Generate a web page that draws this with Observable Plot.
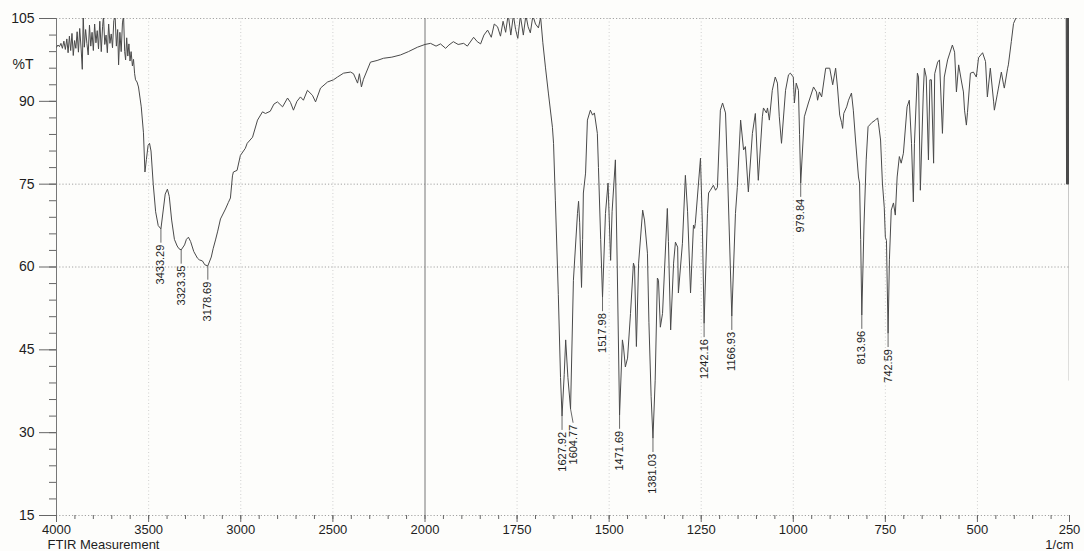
<!DOCTYPE html>
<html>
<head>
<meta charset="utf-8">
<script src="https://cdn.jsdelivr.net/npm/d3@7"></script>
<script src="https://cdn.jsdelivr.net/npm/@observablehq/plot@0.6"></script>
<style>
  html, body { margin: 0; padding: 0; background: #fdfdfb; }
</style>
</head>
<body>
<div id="chart"></div>
<script>
// FTIR transmittance spectrum, [wavenumber (1/cm), %T]
// 4000–2000 1/cm region (O–H / N–H stretch and baseline)
const spectrumHigh = [
  [4000, 99.8], [3992, 100.2], [3984, 99.9], [3976, 100.5], [3968, 99.6], [3960, 100.9],
  [3952, 99.4], [3944, 101.3], [3937, 98.8], [3930, 101.8], [3923, 99.2], [3916, 102.3],
  [3909, 98.3], [3902, 101.0], [3895, 99.6], [3888, 102.6], [3881, 98.9], [3874, 103.2],
  [3866, 99.3], [3860, 95.8], [3855, 105.5], [3849, 99.8], [3842, 103.0], [3835, 100.5],
  [3828, 98.4], [3821, 103.8], [3814, 100.0], [3807, 102.5], [3800, 99.2], [3793, 104.0],
  [3786, 100.6], [3779, 102.8], [3772, 99.5], [3765, 104.5], [3757, 99.0], [3750, 103.5],
  [3745, 105.5], [3738, 100.3], [3731, 102.0], [3724, 98.8], [3717, 104.0], [3710, 100.5],
  [3703, 102.2], [3696, 99.7], [3689, 104.6], [3682, 105.5], [3675, 100.0], [3668, 103.0],
  [3663, 96.6], [3656, 102.5], [3649, 99.0], [3642, 104.2], [3636, 105.5], [3630, 99.0],
  [3625, 97.5], [3619, 101.5], [3613, 98.2], [3607, 100.4], [3601, 97.3], [3595, 99.0],
  [3588, 96.4], [3582, 97.6], [3576, 95.0], [3571, 93.9], [3563, 93.5], [3555, 92.6],
  [3540, 89.0], [3528, 84.3], [3520, 77.2], [3512, 79.5], [3503, 82.0], [3495, 82.4],
  [3487, 81.0], [3475, 75.0], [3462, 70.0], [3448, 67.5], [3420, 70.5], [3410, 73.2],
  [3398, 74.1], [3388, 72.8], [3375, 68.5], [3360, 65.0], [3345, 63.8], [3335, 63.3],
  [3305, 64.0], [3295, 65.0], [3284, 65.4], [3272, 64.6], [3255, 62.8], [3235, 61.6],
  [3225, 61.3], [3208, 61.1], [3195, 60.4], [3160, 61.8], [3150, 63.3], [3137, 64.9],
  [3125, 66.5], [3110, 68.7], [3083, 70.5], [3067, 71.7], [3056, 72.5], [3045, 76.5],
  [3040, 77.2], [3020, 77.5], [3002, 80.2], [2975, 81.5], [2965, 82.4], [2936, 83.5],
  [2909, 86.6], [2882, 88.1], [2866, 87.8], [2840, 88.2], [2820, 89.5], [2801, 89.9],
  [2773, 89.0], [2746, 90.6], [2730, 89.8], [2714, 88.4], [2695, 90.0], [2676, 90.8],
  [2660, 90.2], [2638, 92.0], [2611, 91.1], [2594, 89.9], [2567, 92.4], [2529, 93.5],
  [2497, 93.9], [2475, 94.4], [2442, 95.1], [2404, 95.3], [2388, 95.0], [2366, 93.3],
  [2356, 95.0], [2345, 92.6], [2334, 94.0], [2296, 97.1], [2260, 97.4], [2225, 97.8],
  [2180, 98.0], [2133, 98.4], [2090, 99.0], [2041, 99.8], [2000, 100.3]
];

// 2000–250 1/cm region (fingerprint)
const spectrumLow = [
  [1985, 100.5], [1970, 100.0], [1958, 100.4], [1944, 99.6], [1935, 100.2], [1923, 100.8],
  [1910, 100.3], [1895, 100.5], [1885, 100.0], [1868, 101.6], [1858, 100.8], [1849, 100.4],
  [1840, 102.0], [1830, 102.9], [1820, 101.6], [1812, 104.0], [1803, 103.5], [1795, 101.8],
  [1788, 104.5], [1781, 102.5], [1774, 105.8], [1767, 102.0], [1760, 105.6], [1754, 103.0],
  [1748, 101.4], [1741, 105.5], [1733, 102.0], [1726, 105.6], [1720, 103.5], [1714, 102.4],
  [1707, 105.5], [1700, 104.0], [1692, 103.3], [1686, 105.2], [1680, 100.6], [1673, 96.2],
  [1665, 91.5], [1654, 85.3], [1651, 82.4], [1646, 72.1], [1638, 55.0], [1632, 40.0],
  [1622, 40.5], [1618, 46.8], [1612, 40.0], [1597, 57.6], [1586, 69.7], [1583, 71.9],
  [1580, 68.0], [1575, 56.3], [1572, 65.0], [1570, 73.4], [1564, 77.0], [1559, 86.6],
  [1551, 88.4], [1545, 87.5], [1540, 87.9], [1532, 84.2], [1529, 78.0], [1523, 65.0],
  [1510, 69.7], [1503, 75.2], [1496, 61.2], [1492, 70.0], [1483, 79.4], [1478, 60.0],
  [1464, 46.8], [1461, 45.5], [1456, 41.9], [1450, 43.5], [1442, 51.6], [1434, 60.7],
  [1431, 60.0], [1426, 45.6], [1420, 60.7], [1409, 70.3], [1404, 68.5], [1396, 62.5],
  [1392, 50.0], [1386, 36.5], [1375, 39.5], [1369, 58.0], [1366, 57.6], [1361, 49.1],
  [1355, 51.6], [1342, 70.6], [1339, 64.6], [1333, 48.6], [1325, 60.7], [1320, 64.5],
  [1314, 63.6], [1312, 55.3], [1301, 64.3], [1293, 76.6], [1287, 70.0], [1279, 55.3],
  [1271, 67.6], [1268, 67.0], [1266, 67.9], [1252, 79.7], [1247, 68.0], [1233, 69.7],
  [1230, 73.4], [1225, 73.9], [1217, 74.8], [1211, 73.9], [1206, 74.4], [1198, 88.4],
  [1192, 89.7], [1184, 87.9], [1179, 78.0], [1157, 69.7], [1152, 74.4], [1143, 86.6],
  [1135, 81.2], [1130, 81.8], [1122, 73.6], [1111, 84.2], [1103, 87.8], [1095, 75.7],
  [1084, 87.2], [1081, 88.8], [1073, 87.9], [1070, 88.8], [1065, 86.6], [1057, 92.0],
  [1049, 94.4], [1043, 93.3], [1038, 87.2], [1032, 82.4], [1021, 92.0], [1013, 94.8],
  [1008, 95.1], [1000, 94.4], [997, 89.7], [992, 93.3], [986, 92.0], [983, 84.0],
  [970, 87.2], [959, 89.7], [945, 92.6], [937, 91.7], [934, 90.2], [929, 91.7],
  [923, 90.8], [912, 96.0], [901, 96.0], [893, 93.0], [885, 96.0], [880, 92.6],
  [874, 87.5], [869, 86.2], [866, 85.1], [863, 87.8], [855, 89.0], [850, 90.2],
  [842, 91.5], [837, 88.4], [831, 83.0], [823, 76.3], [820, 75.2], [817, 65.0],
  [808, 67.6], [802, 79.4], [797, 85.4], [786, 86.2], [777, 86.6], [771, 87.0],
  [769, 86.2], [763, 83.0], [758, 75.2], [753, 70.8], [750, 65.4], [747, 64.8],
  [739, 61.3], [734, 70.3], [728, 71.6], [723, 69.4], [718, 76.3], [712, 80.0],
  [707, 78.8], [701, 80.6], [691, 89.0], [685, 90.2], [679, 82.4], [674, 71.8],
  [671, 82.4], [663, 95.1], [660, 94.4], [655, 73.9], [647, 91.5], [644, 96.0],
  [639, 94.4], [633, 79.4], [629, 93.9], [625, 93.9], [619, 78.8], [616, 95.0],
  [608, 97.1], [603, 97.5], [595, 84.2], [590, 94.4], [581, 97.5], [568, 100.2],
  [562, 98.9], [557, 91.7], [551, 96.6], [543, 93.5], [538, 91.7], [535, 88.4],
  [530, 85.7], [527, 88.0], [519, 95.1], [511, 95.3], [503, 94.4], [497, 97.9],
  [486, 98.8], [478, 97.2], [473, 90.8], [465, 96.0], [456, 89.9], [454, 88.4],
  [446, 91.3], [443, 92.4], [435, 95.3], [429, 93.0], [427, 92.4], [418, 96.0],
  [416, 96.6], [408, 100.8], [402, 104.1], [394, 105.3], [370, 109.0], [320, 112.0],
  [280, 110.0], [262, 107.0], [259, 106.0], [258, 75.0], [257, 106.0], [256, 75.0],
  [255, 106.0], [254, 75.0], [253, 106.0], [252, 75.0], [251.2, 106.0], [250.8, 75.0],
  [250.4, 39.5]
];

// Labelled absorption minima
const peakWavenumbers = [3433.29, 3323.35, 3178.69, 1627.92, 1604.77, 1517.98, 1471.69,
                         1381.03, 1242.16, 1166.93, 979.84, 813.96, 742.59];
const peakTransmittance = [66.9, 63.1, 60.2, 33.0, 34.3, 54.5, 33.2,
                           29.0, 49.8, 51.1, 75.2, 51.3, 48.0];

// Axis ticks
const yTicks = [15, 30, 45, 60, 75, 90, 105];
const yMinorTicks = d3.range(15, 106, 3);
const yGridLines = [15, 60, 75, 105];
const xTicks = [4000, 3500, 3000, 2500, 2000, 1750, 1500, 1250, 1000, 750, 500, 250];
const xMinorTicks = [...d3.range(4000, 2000, -100), ...d3.range(2000, 249, -50)];
const xGridLines = [3500, 3000, 2500, 1750, 1500, 1250, 1000, 750, 500];

// Peak annotations: labels of crowded neighbours are pushed apart a little,
// with the leader bending from the minimum to the shifted label.
const peaks = peakWavenumbers.map((wn, i) => ({wn, t: peakTransmittance[i], lx: wn}));
for (let i = 1; i < peaks.length; i++) {
  const gap = peaks[i - 1].lx - peaks[i].wn;
  if (peaks[i].wn < 2000 && gap < 30) peaks[i].lx = peaks[i - 1].lx - 30;
}
const leaderLength = 2.5; // in %T

const spectrum = [...spectrumHigh, ...spectrumLow]
  .map(([wn, t]) => ({wn, t}))
  .concat(peaks.map(({wn, t}) => ({wn, t})))
  .sort((a, b) => b.wn - a.wn);

const ink = "#1e1e1e";
const chart = Plot.plot({
  width: 1084,
  height: 551,
  marginLeft: 56,
  marginRight: 15,
  marginTop: 18,
  marginBottom: 36,
  style: {
    background: "#fdfdfb",
    fontFamily: "'Liberation Sans', Arial, sans-serif",
    color: ink
  },
  // split scale: the 2000–250 region is drawn at twice the density of 4000–2000
  x: {type: "linear", domain: [4000, 2000, 250], range: [56, 424.5, 1069]},
  y: {domain: [15, 105]},
  marks: [
    Plot.ruleX(xGridLines, {stroke: "#c4c4c4", strokeDasharray: "1,2.5", strokeWidth: 0.8}),
    Plot.ruleY(yGridLines, {stroke: "#9a9a9a", strokeDasharray: "1.2,2", strokeWidth: 0.9}),
    Plot.ruleX([4000, 2000], {stroke: "#777", strokeWidth: 1}),

    Plot.axisY(yTicks, {tickSize: 17, tickPadding: 5, fontSize: 14, label: null, stroke: "#666", fill: ink, tickFormat: d => String(d)}),
    Plot.axisY(yMinorTicks, {tickSize: 7, label: null, stroke: "#666", tickFormat: () => ""}),
    Plot.axisX(xTicks, {tickSize: 7, tickPadding: 2, fontSize: 13, label: null, stroke: "#666", fill: ink, tickFormat: d => String(d)}),
    Plot.axisX(xMinorTicks, {tickSize: 4, label: null, stroke: "#666", tickFormat: () => ""}),

    Plot.line(spectrum, {x: "wn", y: "t", stroke: "#4a4a4a", strokeWidth: 1, clip: true}),

    Plot.link(peaks, {
      x1: "wn", y1: "t", x2: "lx", y2: d => d.t - leaderLength,
      stroke: "#444", strokeWidth: 0.8
    }),
    Plot.text(peaks, {
      x: "lx", y: d => d.t - leaderLength, text: d => d.wn.toFixed(2),
      rotate: -90, textAnchor: "end", dy: 2, fontSize: 11, fill: ink
    }),

    Plot.text(["%T"], {frameAnchor: "top-left", dx: -44, dy: 41, textAnchor: "start", fontSize: 14, fill: ink}),
    Plot.text(["FTIR Measurement"], {frameAnchor: "bottom-left", dx: -9, dy: 33.5, lineAnchor: "bottom", textAnchor: "start", fontSize: 13, fill: ink}),
    Plot.text(["1/cm"], {frameAnchor: "bottom-right", dx: 4, dy: 33.5, lineAnchor: "bottom", textAnchor: "end", fontSize: 13, fill: ink})
  ]
});

document.getElementById("chart").append(chart);
</script>
</body>
</html>
